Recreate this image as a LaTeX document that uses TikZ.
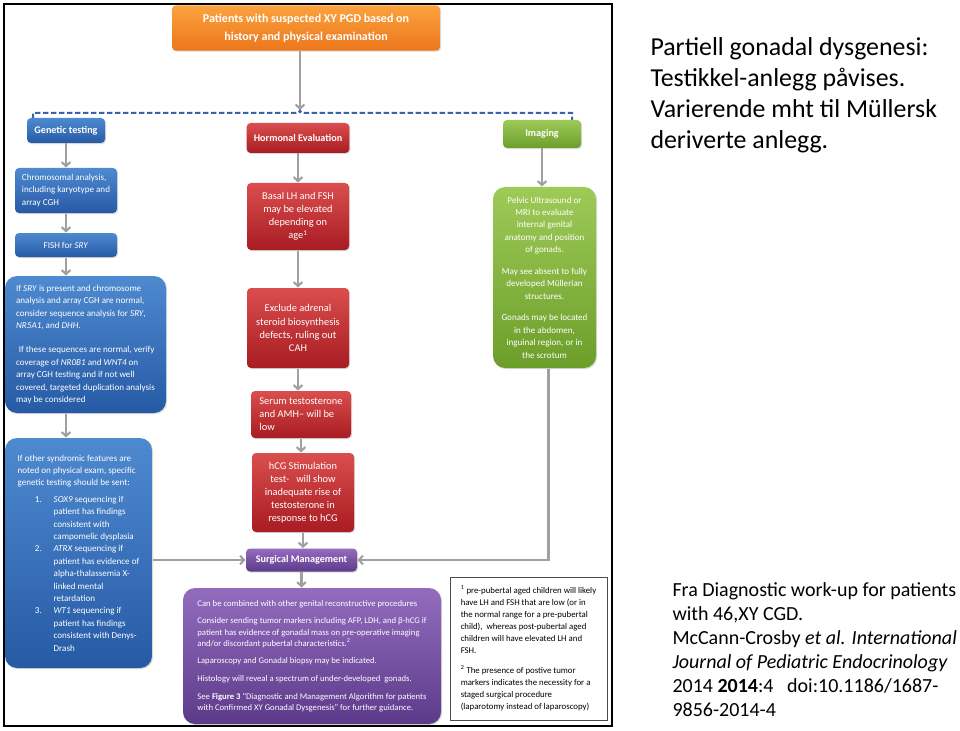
\documentclass[tikz,border=0pt]{standalone}
\usepackage{fontspec}
\setmainfont{Carlito}
\usetikzlibrary{arrows.meta,shadows}

\definecolor{orangeTop}{RGB}{251,162,62}
\definecolor{orangeBot}{RGB}{236,118,28}
\definecolor{blueTop}{RGB}{78,138,208}
\definecolor{blueBot}{RGB}{38,90,165}
\definecolor{redTop}{RGB}{218,78,78}
\definecolor{redBot}{RGB}{168,28,34}
\definecolor{greenTop}{RGB}{158,202,88}
\definecolor{greenBot}{RGB}{108,158,42}
\definecolor{purpleTop}{RGB}{148,108,190}
\definecolor{purpleBot}{RGB}{92,58,138}
\definecolor{arrowGray}{RGB}{160,160,160}
\definecolor{bracketBlue}{RGB}{58,98,168}

\newcommand{\synum}[1]{\hspace*{13pt}\makebox[14pt][l]{#1}}
\newcommand{\syindent}{\hspace*{27pt}}

\tikzset{every picture/.style={line width=0.75pt}}
\tikzset{
  flowbox/.style={rounded corners=3pt, inner sep=2pt, text=white, align=center,
    font=\fontsize{6.8}{9.3}\selectfont,
    drop shadow={opacity=0.3, shadow xshift=0.8pt, shadow yshift=-0.8pt}},
  bigbox/.style={flowbox, rounded corners=9pt},
  headfont/.style={font=\fontsize{7.6}{9}\selectfont\bfseries},
  redfont/.style={font=\fontsize{7.8}{9.8}\selectfont},
  orangefill/.style={top color=orangeTop, bottom color=orangeBot},
  bluefill/.style={top color=blueTop, bottom color=blueBot},
  redfill/.style={top color=redTop, bottom color=redBot},
  greenfill/.style={top color=greenTop, bottom color=greenBot},
  purplefill/.style={top color=purpleTop, bottom color=purpleBot},
  arr/.style={draw=arrowGray, line width=1.6pt, -{Straight Barb[length=3pt,width=6.5pt]}},
  bracket/.style={draw=bracketBlue, line width=1.5pt, dash pattern=on 4pt off 2pt},
  frame/.style={draw=black, line width=1.5pt},
  notebox/.style={draw=black!70, line width=0.6pt, inner sep=2pt, align=left, font=\fontsize{6.6}{9}\selectfont},
  sidetext/.style={inner sep=0pt, align=left, anchor=base west}
}

\begin{document}
\begin{tikzpicture}[x=0.75pt,y=0.75pt,yscale=-1,xscale=1]
\useasboundingbox (0,0) rectangle (960,731);

%Frame
\draw[frame] (4,4) rectangle (612,726);

% Text Node
\node[flowbox, orangefill, font=\fontsize{9}{13.5}\selectfont\bfseries, minimum width=201pt, minimum height=34pt] (patients) at (306,28) {Patients with suspected XY PGD based on\\history and physical examination};

%Dashed bracket
\coordinate (btip) at (300,110);
\draw[bracket] (33,119) -- (33,113) -- (296,113) .. controls (299,113) and (300,112) .. (btip) .. controls (300,112) and (301,113) .. (304,113) -- (572,113) -- (572,120);
\draw[arr] (patients.south -| btip) -- (btip);

% Text Node
\node[flowbox, bluefill, headfont, minimum width=58.5pt, minimum height=18.75pt] (genetic) at (66,130.5) {Genetic testing};
% Text Node
\node[flowbox, redfill, headfont, minimum width=77pt, minimum height=22.5pt] (hormonal) at (298,138) {Hormonal Evaluation};
% Text Node
\node[flowbox, greenfill, headfont, minimum width=58.5pt, minimum height=21pt] (imaging) at (542,134) {Imaging};

% Text Node
\node[flowbox, bluefill, align=left, minimum width=76.5pt, minimum height=33.75pt] (chromo) at (66,190.5) {Chromosomal analysis,\\including karyotype and\\array CGH};
% Text Node
\node[flowbox, bluefill, minimum width=76.5pt, minimum height=18pt] (fish) at (66,245) {FISH for \textit{SRY}};
% Text Node
\node[bigbox, bluefill, align=left, minimum width=120.75pt, minimum height=102.75pt] (sequence) at (85.5,344.5) {If \textit{SRY} is present and chromosome\\analysis and array CGH are normal,\\consider sequence analysis for \textit{SRY},\\\textit{NR5A1}, and \textit{DHH}.\\[9pt]\hspace*{2pt}If these sequences are normal, verify\\coverage of \textit{NR0B1} and \textit{WNT4} on\\array CGH testing and if not well\\covered, targeted duplication analysis\\may be considered};
% Text Node
\node[bigbox, bluefill, align=left, minimum width=110.25pt, minimum height=172.5pt] (syndromic) at (78.5,553) {If other syndromic features are\\noted on physical exam, specific\\genetic testing should be sent:\\[3pt]
\synum{1.}\textit{SOX9} sequencing if\\\syindent patient has findings\\\syindent consistent with\\\syindent campomelic dysplasia\\
\synum{2.}\textit{ATRX} sequencing if\\\syindent patient has evidence of\\\syindent alpha-thalassemia X-\\\syindent linked mental\\\syindent retardation\\
\synum{3.}\textit{WT1} sequencing if\\\syindent patient has findings\\\syindent consistent with Denys-\\\syindent Drash};

% Text Node
\node[flowbox, redfill, redfont, minimum width=76.5pt, minimum height=50.25pt] (basal) at (298,216.5) {Basal LH and FSH\\may be elevated\\depending on\\age\textsuperscript{1}};
% Text Node
\node[flowbox, redfill, redfont, minimum width=76.5pt, minimum height=60pt] (adrenal) at (298,328) {Exclude adrenal\\steroid biosynthesis\\defects, ruling out\\CAH};
% Text Node
\node[flowbox, redfill, redfont, align=left, minimum width=75pt, minimum height=35.25pt] (serum) at (301,414.5) {Serum testosterone\\and AMH-- will be\\low};
% Text Node
\node[flowbox, redfill, redfont, minimum width=76.5pt, minimum height=59.25pt] (hcg) at (303,492.5) {hCG Stimulation\\test-\ \ \ will show\\inadequate rise of\\testosterone in\\response to hCG};
% Text Node
\node[flowbox, purplefill, headfont, minimum width=83.25pt, minimum height=17.25pt] (surgical) at (301.5,560) {Surgical Management};
% Text Node
\node[bigbox, purplefill, align=left, font=\fontsize{6.5}{8.3}\selectfont, minimum width=193.5pt, minimum height=102pt] (surgnotes) at (312,656) {Can be combined with other genital reconstructive procedures\\[5pt]Consider sending tumor markers including AFP, LDH, and β-hCG if\\patient has evidence of gonadal mass on pre-operative imaging\\and/or discordant pubertal characteristics.\textsuperscript{2}\\[5pt]Laparoscopy and Gonadal biopsy may be indicated.\\[5pt]Histology will reveal a spectrum of under-developed\ \ gonads.\\[5pt]See \textbf{Figure 3} “Diagnostic and Management Algorithm for patients\\with Confirmed XY Gonadal Dysgenesis” for further guidance.};

% Text Node
\node[bigbox, greenfill, minimum width=77.25pt, minimum height=135.75pt] (pelvic) at (544.5,277.5) {Pelvic Ultrasound or\\MRI to evaluate\\internal genital\\anatomy and position\\of gonads.\\[7pt]May see absent to fully\\developed Müllerian\\structures.\\[7pt]Gonads may be located\\in the abdomen,\\inguinal region, or in\\the scrotum};

% Text Node
\node[notebox, minimum width=117.75pt, minimum height=107.25pt] (notes) at (528.5,648.5) {\textsuperscript{1} pre-pubertal aged children will likely\\have LH and FSH that are low (or in\\the normal range for a pre-pubertal\\child),\ \ whereas post-pubertal aged\\children will have elevated LH and\\FSH.\\[6pt]\textsuperscript{2} The presence of postive tumor\\markers indicates the necessity for a\\staged surgical procedure\\(laparotomy instead of laparoscopy)};

%Straight Lines
\draw[arr] (genetic) -- (chromo);
\draw[arr] (chromo) -- (fish);
\draw[arr] (fish.south) -- (fish.south |- sequence.north);
\draw[arr] (sequence.south -| fish) -- (syndromic.north -| fish);
\draw[arr] (hormonal) -- (basal);
\draw[arr] (basal) -- (adrenal);
\draw[arr] (adrenal.south) -- (adrenal.south |- serum.north);
\draw[arr] (serum.south) -- (serum.south |- hcg.north);
\draw[arr] (hcg.south) -- (hcg.south |- surgical.north);
\draw[arr] (surgical.south) -- (surgical.south |- surgnotes.north);
\draw[arr] (imaging.south) -- (imaging.south |- pelvic.north);
\draw[arr] ([xshift=3pt]pelvic.south) |- (surgical.east);
\draw[arr] (syndromic.east |- surgical) -- (surgical.west);

% Text Node (base = last line)
\node[sidetext, font=\fontsize{19.4}{23.3}\selectfont] (summary) at (650,149) {Partiell gonadal dysgenesi:\\Testikkel-anlegg påvises.\\Varierende mht til Müllersk\\deriverte anlegg.};
% Text Node (base = last line)
\node[sidetext, font=\fontsize{15}{18}\selectfont] (source) at (672,716) {Fra Diagnostic work-up for patients\\with 46,XY CGD.\\McCann-Crosby \textit{et al.} \textit{International}\\\textit{Journal of Pediatric Endocrinology}\\2014 \textbf{2014}:4\ \ \ doi:10.1186/1687-\\9856-2014-4};
\end{tikzpicture}
\end{document}
